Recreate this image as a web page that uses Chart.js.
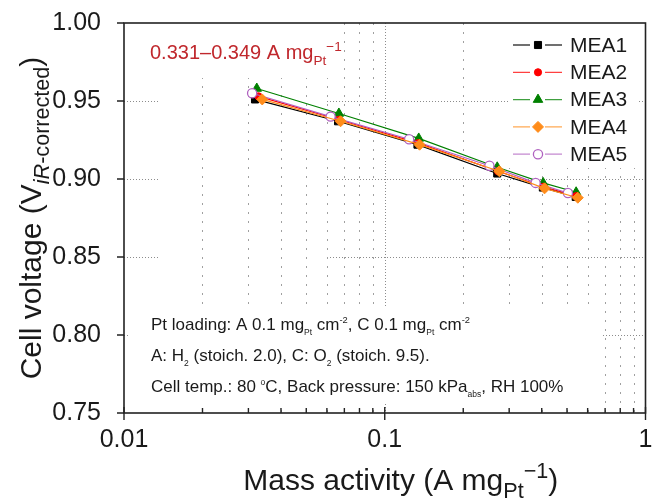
<!DOCTYPE html>
<html>
<head>
<meta charset="utf-8">
<script src="https://cdn.jsdelivr.net/npm/chart.js@4.4.0/dist/chart.umd.min.js"></script>
<style>
  html, body { margin: 0; padding: 0; background: #fff; }
  #wrap { width: 652px; height: 502px; }
</style>
</head>
<body>
<div id="wrap"><canvas id="chart" width="652" height="502"></canvas></div>
<script>
// mass activity (A mgPt^-1) vs iR-corrected cell voltage (V), one pair per MEA
const ma1 = [0.0318, 0.0662, 0.1335, 0.270, 0.404, 0.540];
const v1  = [0.951, 0.937, 0.922, 0.9035, 0.8945, 0.8885];
const ma2 = [0.0328, 0.0668, 0.1345, 0.272, 0.406, 0.542];
const v2  = [0.953, 0.938, 0.923, 0.905, 0.895, 0.889];
const ma3 = [0.0323, 0.0667, 0.135, 0.270, 0.405, 0.542];
const v3  = [0.958, 0.942, 0.926, 0.9075, 0.8975, 0.8915];
const ma4 = [0.0339, 0.0677, 0.136, 0.275, 0.410, 0.550];
const v4  = [0.951, 0.937, 0.922, 0.905, 0.894, 0.888];
const ma5 = [0.0310, 0.0620, 0.124, 0.252, 0.379, 0.504];
const v5  = [0.955, 0.940, 0.9255, 0.9085, 0.8975, 0.891];

const seriesNames = ['MEA1', 'MEA2', 'MEA3', 'MEA4', 'MEA5'];
const yTicks = [0.75, 0.80, 0.85, 0.90, 0.95, 1.00];
const xLabelTicks = [0.01, 0.1, 1];

const FONT = "'Liberation Sans', Arial, sans-serif";

function pts(xs, ys) {
  return xs.map((x, i) => ({ x: x, y: ys[i] }));
}

// log minor ticks 0.01..1
const xAllTicks = [];
[0.01, 0.1].forEach(d => {
  for (let k = 1; k <= 9; k++) xAllTicks.push(+(d * k).toFixed(4));
});
xAllTicks.push(1);

const styles = [
  { color: '#000000', fill: '#000000', pointStyle: 'rect',     radius: 5,   order: 4 },
  { color: '#ff0000', fill: '#ff0000', pointStyle: 'circle',   radius: 3.6, order: 3 },
  { color: '#008000', fill: '#008000', pointStyle: 'triangle', radius: 5.5, order: 5 },
  { color: '#ff8c1a', fill: '#ff8c1a', pointStyle: 'rectRot',  radius: 5.5, order: 1 },
  { color: '#b062c0', fill: '#ffffff', pointStyle: 'circle',   radius: 4.6, order: 2 }
];

const allX = [ma1, ma2, ma3, ma4, ma5];
const allY = [v1, v2, v3, v4, v5];

const datasets = seriesNames.map((name, i) => ({
  label: name,
  data: pts(allX[i], allY[i]),
  showLine: true,
  borderColor: styles[i].color,
  backgroundColor: styles[i].fill,
  pointBorderColor: styles[i].color,
  pointBackgroundColor: styles[i].fill,
  pointStyle: styles[i].pointStyle,
  pointRadius: styles[i].radius,
  pointBorderWidth: i === 4 ? 1.3 : 1,
  borderWidth: 1.2,
  order: styles[i].order
}));

// text with sub/superscript pieces: [text, mode, scale], mode '', 'sub', 'sup', 'isub'
function richWidth(ctx, parts, size) {
  let w = 0;
  parts.forEach(p => {
    const s = p[1] ? size * p[2] : size;
    ctx.font = (p[1] === 'isub' ? 'italic ' : '') + s + 'px ' + FONT;
    w += ctx.measureText(p[0]).width;
  });
  return w;
}
function richText(ctx, parts, x, y, size, color, align) {
  ctx.save();
  ctx.fillStyle = color;
  ctx.textBaseline = 'alphabetic';
  ctx.textAlign = 'left';
  let cx = align === 'center' ? x - richWidth(ctx, parts, size) / 2 : x;
  parts.forEach(p => {
    const mode = p[1];
    const s = mode ? size * p[2] : size;
    let dy = 0;
    if (mode === 'sub' || mode === 'isub') dy = size * 0.28;
    if (mode === 'sup') dy = -size * 0.4;
    ctx.font = (mode === 'isub' ? 'italic ' : '') + s + 'px ' + FONT;
    ctx.fillText(p[0], cx, y + dy);
    cx += ctx.measureText(p[0]).width;
  });
  ctx.restore();
}

// regions kept clear of grid dots (behind the text blocks and legend)
function masks(a) {
  return [
    [a.left, a.top, 336, 78],
    [508, a.top, 637, 168],
    [a.left + 4, 307, 601, 404]
  ];
}

const decor = {
  id: 'decor',
  beforeDatasetsDraw(chart) {
    const { ctx, chartArea: a, scales: { x, y } } = chart;
    ctx.save();
    ctx.lineWidth = 1;
    // horizontal grid
    ctx.strokeStyle = '#8c8c8c';
    ctx.setLineDash([1, 2]);
    yTicks.forEach(v => {
      if (v <= 0.75 || v >= 1) return;
      const py = Math.round(y.getPixelForValue(v)) + 0.5;
      ctx.beginPath();
      ctx.moveTo(a.left, py); ctx.lineTo(158, py);
      ctx.moveTo(327, py); ctx.lineTo(a.right, py);
      ctx.stroke();
    });
    // vertical grid
    xAllTicks.forEach(v => {
      if (v <= 0.01 || v >= 1) return;
      const px = Math.round(x.getPixelForValue(v)) + 0.5;
      const major = Math.abs(v - 0.1) < 1e-9;
      ctx.strokeStyle = major ? '#8c8c8c' : '#a0a0a0';
      ctx.setLineDash(major ? [1, 2] : [2, 7]);
      ctx.beginPath();
      ctx.moveTo(px, a.top); ctx.lineTo(px, a.bottom);
      ctx.stroke();
    });
    ctx.setLineDash([]);
    ctx.fillStyle = '#ffffff';
    masks(a).forEach(m => ctx.fillRect(m[0], m[1], m[2] - m[0], m[3] - m[1]));
    ctx.restore();
  },
  afterDatasetsDraw(chart) {
    const { ctx, chartArea: a, scales: { x, y } } = chart;
    ctx.save();
    ctx.strokeStyle = '#222';
    ctx.lineWidth = 1.6;
    ctx.strokeRect(a.left, a.top, a.right - a.left, a.bottom - a.top);
    ctx.lineWidth = 1.4;
    ctx.beginPath();
    yTicks.forEach(v => {
      const py = y.getPixelForValue(v);
      ctx.moveTo(a.left - 7, py); ctx.lineTo(a.left, py);
    });
    xAllTicks.forEach(v => {
      const px = x.getPixelForValue(v);
      const major = xLabelTicks.some(t => Math.abs(t - v) < 1e-9);
      if (major) { ctx.moveTo(px, a.bottom + 7); ctx.lineTo(px, a.bottom - 6); }
      else { ctx.moveTo(px, a.bottom); ctx.lineTo(px, a.bottom - 5); }
    });
    ctx.stroke();
    ctx.restore();
  },
  afterDraw(chart) {
    const { ctx, chartArea: a } = chart;
    // legend
    chart.data.datasets.forEach((ds, i) => {
      const ly = 45 + 27.3 * i;
      ctx.save();
      ctx.strokeStyle = ds.borderColor;
      ctx.globalAlpha = 0.75;
      ctx.lineWidth = 1.3;
      ctx.beginPath();
      ctx.moveTo(513, ly); ctx.lineTo(530, ly);
      ctx.moveTo(545, ly); ctx.lineTo(562, ly);
      ctx.stroke();
      ctx.globalAlpha = 1;
      ctx.fillStyle = ds.pointBackgroundColor;
      ctx.strokeStyle = ds.pointBorderColor;
      ctx.lineWidth = ds.pointBorderWidth;
      Chart.helpers.drawPoint(ctx, {
        pointStyle: ds.pointStyle,
        radius: ds.pointRadius,
        rotation: 0,
        borderWidth: ds.pointBorderWidth
      }, 538, ly);
      ctx.fillStyle = '#1a1a1a';
      ctx.font = '21px ' + FONT;
      ctx.textBaseline = 'middle';
      ctx.fillText(ds.label, 570, ly + 1);
      ctx.restore();
    });

    // range of mass activity at 0.9 V
    richText(ctx, [['0.331\u20130.349 A mg'], ['Pt', 'sub', 0.68], ['\u22121', 'sup', 0.68]],
      150, 59, 20, '#c0282d', 'left');

    // test conditions
    const nSize = 17;
    richText(ctx, [['Pt loading: A 0.1 mg'], ['Pt', 'sub', 0.5], [' cm'], ['-2', 'sup', 0.55],
      [', C 0.1 mg'], ['Pt', 'sub', 0.5], [' cm'], ['-2', 'sup', 0.55]], 151, 330, nSize, '#1a1a1a', 'left');
    richText(ctx, [['A: H'], ['2', 'sub', 0.5], [' (stoich. 2.0), C: O'], ['2', 'sub', 0.5],
      [' (stoich. 9.5).']], 151, 361, nSize, '#1a1a1a', 'left');
    richText(ctx, [['Cell temp.: 80 '], ['o', 'sup', 0.5], ['C, Back pressure: 150 kPa'], ['abs', 'sub', 0.5],
      [', RH 100%']], 151, 392, nSize, '#1a1a1a', 'left');

    // axis titles
    richText(ctx, [['Mass activity (A mg'], ['Pt', 'sub', 0.72], ['\u22121', 'sup', 0.72], [')']],
      (a.left + a.right) / 2 + 16, 490, 30, '#1a1a1a', 'center');
    ctx.save();
    ctx.translate(41, (a.top + a.bottom) / 2);
    ctx.rotate(-Math.PI / 2);
    richText(ctx, [['Cell voltage (V'], ['iR', 'isub', 0.72], ['-corrected', 'sub', 0.72], [')']],
      0, 0, 30, '#1a1a1a', 'center');
    ctx.restore();
  }
};

const ctx = document.getElementById('chart').getContext('2d');
new Chart(ctx, {
  type: 'scatter',
  data: { datasets: datasets },
  options: {
    responsive: false,
    animation: false,
    layout: { padding: { top: 23, right: 4, left: 0, bottom: 0 } },
    plugins: { legend: { display: false }, tooltip: { enabled: false } },
    scales: {
      x: {
        type: 'logarithmic',
        min: 0.01,
        max: 1,
        grid: { display: false },
        border: { display: false },
        afterBuildTicks: scale => { scale.ticks = xAllTicks.map(v => ({ value: v })); },
        afterFit: scale => {
          scale.height = 89;
          scale.paddingLeft = 0;
          scale.paddingRight = 0;
        },
        ticks: {
          autoSkip: false,
          maxRotation: 0,
          padding: 4,
          color: '#1a1a1a',
          font: { family: FONT, size: 25 },
          callback: v => xLabelTicks.some(t => Math.abs(t - v) < 1e-9) ? String(v) : ''
        }
      },
      y: {
        min: 0.75,
        max: 1.0,
        grid: { display: false },
        border: { display: false },
        afterBuildTicks: scale => { scale.ticks = yTicks.map(v => ({ value: v })); },
        afterFit: scale => {
          scale.width = 124;
          scale.paddingTop = 0;
          scale.paddingBottom = 0;
        },
        ticks: {
          padding: 15,
          color: '#1a1a1a',
          font: { family: FONT, size: 25 },
          callback: v => v.toFixed(2)
        }
      }
    }
  },
  plugins: [decor]
});
</script>
</body>
</html>
